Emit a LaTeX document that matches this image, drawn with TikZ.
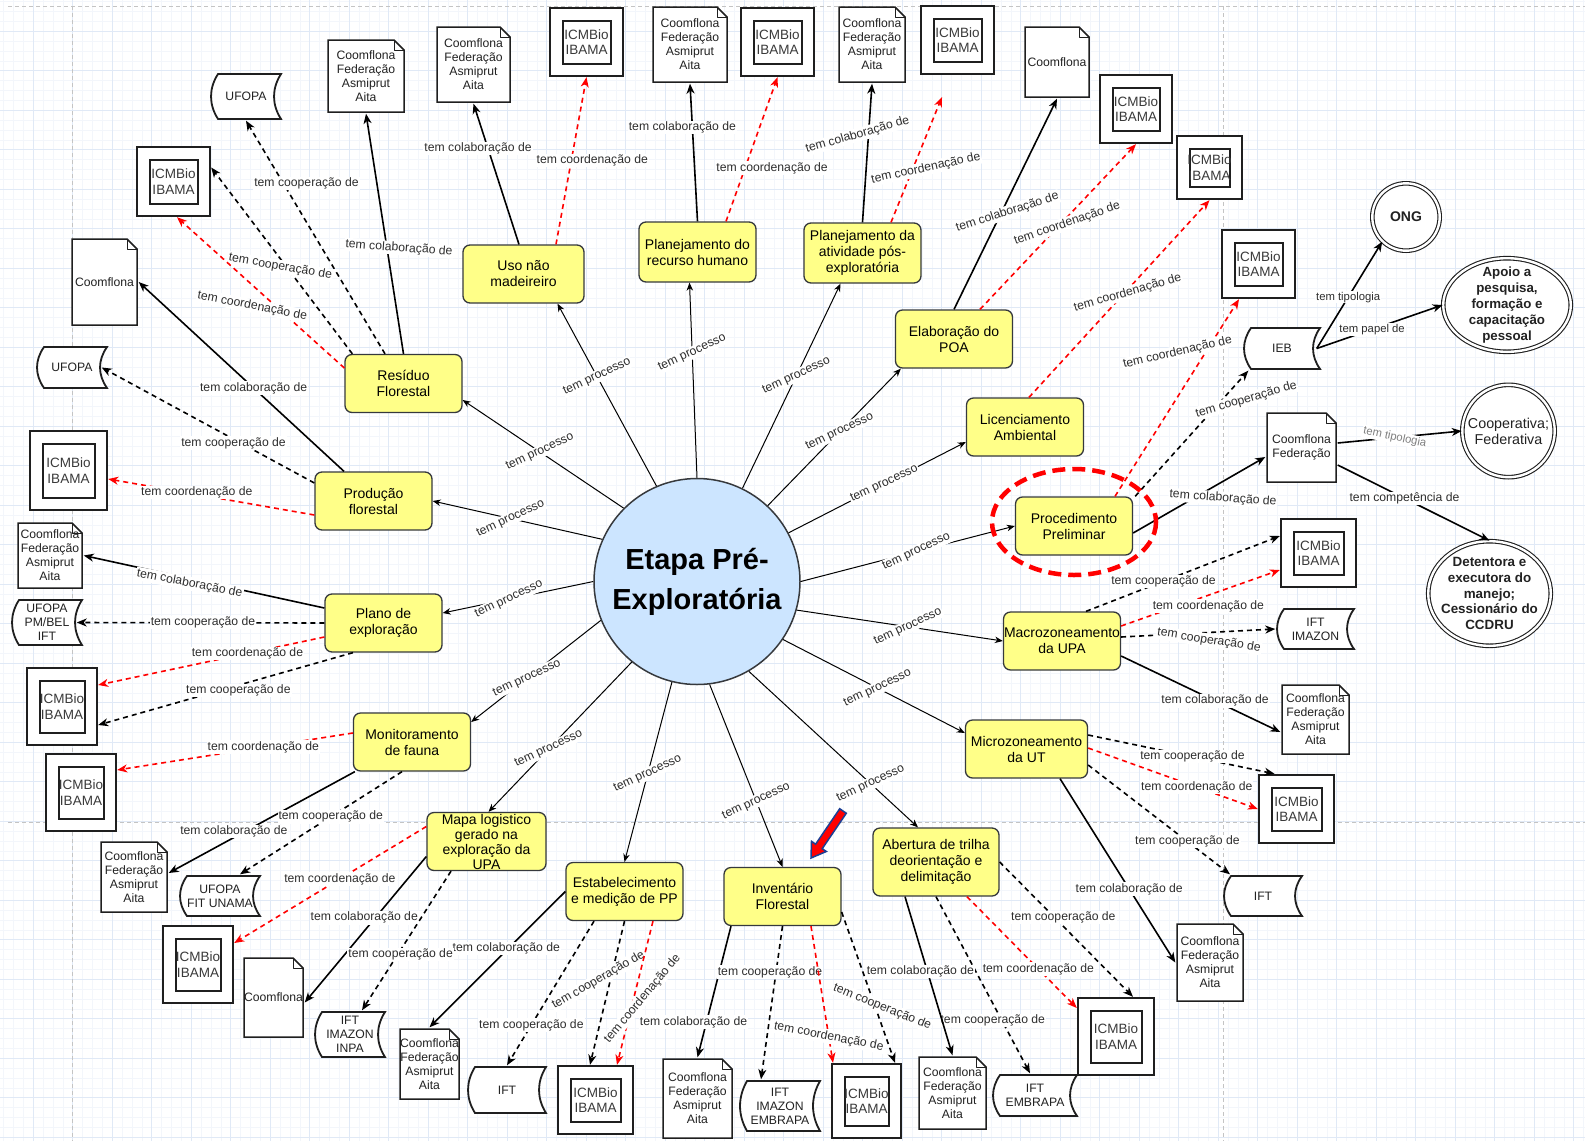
\documentclass[tikz,border=0pt]{standalone}
\usepackage{fontspec}
\setmainfont{Liberation Sans}
\usetikzlibrary{arrows.meta,calc,shapes.geometric}

\newcommand\procfont{\fontsize{14}{16}\selectfont}
\newcommand\centrefont{\bfseries\fontsize{29}{40}\selectfont}
\newcommand\leaffont{\fontsize{12.2}{14}\selectfont}
\newcommand\icmfont{\fontsize{13.5}{15.5}\selectfont}
\newcommand\labfont{\fontsize{12.2}{14}\selectfont}
\newcommand\tinyfont{\fontsize{11.3}{13}\selectfont}

\definecolor{gridminor}{HTML}{F3F6FB}
\definecolor{gridmajor}{HTML}{E0E9F6}
\definecolor{pagebreak}{HTML}{C4C4C4}
\definecolor{procfill}{HTML}{FFFF88}
\definecolor{procline}{HTML}{36393D}
\definecolor{centrefill}{HTML}{CCE5FF}
\definecolor{boxline}{HTML}{1F1F1F}
\definecolor{labtxt}{HTML}{2E2E2E}
\definecolor{icmtxt}{HTML}{3A3A3A}
\definecolor{leaftxt}{HTML}{222222}
\definecolor{arrowblue}{HTML}{1C3F94}

\tikzset{
  procbox/.style={rectangle, rounded corners=7pt, draw=procline, fill=procfill,
    line width=1.3pt, minimum width=117pt, minimum height=58pt, inner sep=0pt,
    align=center, font=\procfont, text=black},
  centre/.style={circle, draw=procline, fill=centrefill, line width=1.5pt,
    minimum size=206pt, inner sep=0pt, align=center, font=\centrefont},
  icmbox/.style={rectangle, draw=boxline, fill=white, line width=2.4pt,
    inner sep=0pt, align=center, text=icmtxt, font=\icmfont,
    path picture={\draw[boxline, line width=2pt]
      ($(path picture bounding box.north west)+(12.5,12.5)$) rectangle
      ($(path picture bounding box.south east)+(-12.5,-12.5)$);}},
  notebox/.style={rectangle, inner sep=0pt, align=center, text=leaftxt, font=\leaffont,
    path picture={
      \path (path picture bounding box.north west) coordinate (nNW)
            (path picture bounding box.north east) coordinate (nNE)
            (path picture bounding box.south west) coordinate (nSW)
            (path picture bounding box.south east) coordinate (nSE);
      \filldraw[fill=white, draw=boxline, line width=1.5pt, line join=miter]
        ($(nNW)+(1.5,1.5)$) -- ($(nNE)+(-11.5,1.5)$) -- ($(nNE)+(-1.5,11.5)$)
        -- ($(nSE)+(-1.5,-1.5)$) -- ($(nSW)+(1.5,-1.5)$) -- cycle;
      \draw[boxline, line width=0.9pt, line join=round]
        ($(nNE)+(-11.5,1.5)$) -- ($(nNE)+(-11.5,11.5)$) -- ($(nNE)+(-1.5,11.5)$);}},
  tapebox/.style={rectangle, inner sep=0pt, align=center, text=leaftxt, font=\leaffont,
    path picture={
      \path (path picture bounding box.north west) coordinate (tNW)
            (path picture bounding box.north east) coordinate (tNE)
            (path picture bounding box.south west) coordinate (tSW)
            (path picture bounding box.south east) coordinate (tSE);
      \filldraw[fill=white, draw=boxline, line width=1.8pt]
        ($(tNW)+(8.5,1.5)$) -- ($(tNE)+(-1.5,1.5)$)
        .. controls ($(tNE)!0.333!(tSE)+(-10.8,0)$) and ($(tNE)!0.667!(tSE)+(-10.8,0)$)
        .. ($(tSE)+(-1.5,-1.5)$) -- ($(tSW)+(8.5,-1.5)$)
        .. controls ($(tSW)!0.333!(tNW)+(-0.8,0)$) and ($(tSW)!0.667!(tNW)+(-0.8,0)$)
        .. ($(tNW)+(8.5,1.5)$) -- cycle;}},
  dblcirc/.style={circle, draw=boxline, fill=white, double=white, double distance=2.4pt,
    line width=1.1pt, inner sep=0pt, align=center, text=leaftxt},
  dblell/.style={ellipse, draw=boxline, fill=white, double=white, double distance=2.4pt,
    line width=1.1pt, inner sep=0pt, align=center},
  procedge/.style={draw=black, line width=1pt, -{Stealth[length=8pt,width=6.5pt,inset=2.5pt]}},
  colab/.style={color=black, line width=1.6pt, -{Stealth[length=10pt,width=8pt,inset=3pt]}},
  coop/.style={colab, dash pattern=on 5pt off 4pt},
  coord/.style={colab, color=red, dash pattern=on 5pt off 4pt},
  lab/.style={font=\labfont, text=labtxt, fill=white, inner sep=1pt},
  labp/.style={lab, rotate=25},
  labs/.style={font=\tinyfont, text=labtxt, fill=white, inner sep=1pt},
}

\begin{document}
\begin{tikzpicture}[x=1pt,y=-1pt]
\useasboundingbox (0,0) rectangle (1585,1141);
\fill[white] (0,0) rectangle (1585,1141);

% background grid
\foreach \i in {0,...,161}{\draw[gridminor, line width=0.6pt] ({-6.3+9.875*\i},0) -- ++(0,1141);}
\foreach \j in {0,...,116}{\draw[gridminor, line width=0.6pt] (0,{-8.3+9.875*\j}) -- ++(1585,0);}
\foreach \i in {0,...,40}{\draw[gridmajor, line width=0.9pt] ({-6.3+39.5*\i},0) -- ++(0,1141);}
\foreach \j in {0,...,29}{\draw[gridmajor, line width=0.9pt] (0,{-8.3+39.5*\j}) -- ++(1585,0);}
% page breaks
\begin{scope}[pagebreak, line width=0.9pt, dash pattern=on 4pt off 3pt]
  \draw (72,6) -- (72,1141);
  \draw (1223,6) -- (1223,1141);
  \draw (8,6) -- (1585,6);
  \draw (8,822.7) -- (1585,822.7);
\end{scope}

% central concept
\node[centre] (c) at (697,581.5) {Etapa Pré-\\Exploratória};

% processes
\node[procbox] (res) at (403.5,383.5) {Resíduo\\Florestal};
\node[procbox] (prod) at (373.5,501) {Produção\\florestal};
\node[procbox] (plano) at (383.5,623) {Plano de\\exploração};
\node[procbox] (mon) at (412,742) {Monitoramento\\de fauna};
\node[procbox, minimum width=119pt, font=\fontsize{14}{15}\selectfont] (mapa) at (486.5,841.5) {Mapa logistico\\gerado na\\exploração da\\UPA};
\node[procbox] (estab) at (624.5,891.5) {Estabelecimento\\e medição de PP};
\node[procbox] (inv) at (782.5,896.5) {Inventário\\Florestal};
\node[procbox, minimum width=126pt, minimum height=68pt] (ab) at (936,862) {Abertura de trilha\\deorientação e\\delimitação};
\node[procbox, minimum width=122pt] (micro) at (1026.5,749) {Microzoneamento\\da UT};
\node[procbox] (macro) at (1062,641) {Macrozoneamento\\da UPA};
\node[procbox] (pre) at (1074,526) {Procedimento\\Preliminar};
\node[procbox] (lic) at (1025,427) {Licenciamento\\Ambiental};
\node[procbox] (poa) at (954,339) {Elaboração do\\POA};
\node[procbox, minimum height=60pt] (post) at (862.5,253) {Planejamento da\\atividade pós-\\exploratória};
\node[procbox, minimum height=60pt] (rh) at (697.5,252) {Planejamento do\\recurso humano};
\node[procbox, minimum width=121pt] (uso) at (523.5,274) {Uso não\\madeireiro};

% ICMBio / IBAMA boxes
\node[icmbox, minimum width=73pt, minimum height=69pt] (icmA) at (173.5,181.5) {ICMBio\\IBAMA};
\node[icmbox, minimum width=73pt, minimum height=68pt] (icmB) at (586.5,42) {ICMBio\\IBAMA};
\node[icmbox, minimum width=73pt, minimum height=68pt] (icmC) at (777.5,42) {ICMBio\\IBAMA};
\node[icmbox, minimum width=73pt, minimum height=68pt] (icmD) at (957.5,40) {ICMBio\\IBAMA};
\node[icmbox, minimum width=72pt, minimum height=68pt] (icmE) at (1136,109) {ICMBio\\IBAMA};
\node[icmbox, minimum width=65pt, minimum height=63pt] (icmF) at (1209.5,167.5) {ICMBio\\IBAMA};
\node[icmbox, minimum width=73pt, minimum height=68pt] (icmG) at (1258.5,264) {ICMBio\\IBAMA};
\node[icmbox, minimum width=75pt, minimum height=68pt] (icmH) at (1318.5,553) {ICMBio\\IBAMA};
\node[icmbox, minimum width=75pt, minimum height=68pt] (icmI) at (1296.5,809) {ICMBio\\IBAMA};
\node[icmbox, minimum width=76pt, minimum height=77pt] (icmJ) at (1116,1036.5) {ICMBio\\IBAMA};
\node[icmbox, minimum width=69pt, minimum height=74pt] (icmK) at (866.5,1101) {ICMBio\\IBAMA};
\node[icmbox, minimum width=75pt, minimum height=68pt] (icmL) at (595.5,1100) {ICMBio\\IBAMA};
\node[icmbox, minimum width=70pt, minimum height=77pt] (icmM) at (198,964.5) {ICMBio\\IBAMA};
\node[icmbox, minimum width=70pt, minimum height=77pt] (icmN) at (81,792.5) {ICMBio\\IBAMA};
\node[icmbox, minimum width=70pt, minimum height=77pt] (icmO) at (62,706.5) {ICMBio\\IBAMA};
\node[icmbox, minimum width=77pt, minimum height=79pt] (icmP) at (68.5,470.5) {ICMBio\\IBAMA};

% organisation notes
\node[notebox, minimum width=79pt, minimum height=75pt] (noteA) at (366,76) {Coomflona\\Federação\\Asmiprut\\Aita};
\node[notebox, minimum width=76pt, minimum height=78pt] (noteB) at (473.5,64.5) {Coomflona\\Federação\\Asmiprut\\Aita};
\node[notebox, minimum width=68pt, minimum height=89pt] (noteC) at (104.5,282) {Coomflona};
\node[notebox, minimum width=77pt, minimum height=78pt] (noteD) at (690,44.5) {Coomflona\\Federação\\Asmiprut\\Aita};
\node[notebox, minimum width=69pt, minimum height=78pt] (noteE) at (872,44.5) {Coomflona\\Federação\\Asmiprut\\Aita};
\node[notebox, minimum width=67pt, minimum height=73pt] (noteF) at (1057,62) {Coomflona};
\node[notebox, minimum width=72pt, minimum height=72pt] (noteG) at (1301.5,447.5) {Coomflona\\Federação};
\node[notebox, minimum width=70pt, minimum height=72pt] (noteH) at (1315.5,719.5) {Coomflona\\Federação\\Asmiprut\\Aita};
\node[notebox, minimum width=69pt, minimum height=80pt] (noteI) at (1210,962.5) {Coomflona\\Federação\\Asmiprut\\Aita};
\node[notebox, minimum width=70pt, minimum height=75pt] (noteJ) at (952.5,1093) {Coomflona\\Federação\\Asmiprut\\Aita};
\node[notebox, minimum width=72pt, minimum height=82pt] (noteK) at (697.5,1098.5) {Coomflona\\Federação\\Asmiprut\\Aita};
\node[notebox, minimum width=62pt, minimum height=73pt] (noteL) at (429.5,1064) {Coomflona\\Federação\\Asmiprut\\Aita};
\node[notebox, minimum width=62pt, minimum height=82pt] (noteM) at (273.5,997.5) {Coomflona};
\node[notebox, minimum width=69pt, minimum height=73pt] (noteN) at (134,877) {Coomflona\\Federação\\Asmiprut\\Aita};
\node[notebox, minimum width=67pt, minimum height=68pt] (noteO) at (50,555.5) {Coomflona\\Federação\\Asmiprut\\Aita};

% institutions (stored-data shapes)
\node[tapebox, minimum width=73pt, minimum height=48pt] (tUfopaA) at (246,96.5) {UFOPA};
\node[tapebox, minimum width=73pt, minimum height=44pt] (tUfopaB) at (72,367.5) {UFOPA};
\node[tapebox, minimum width=79pt, minimum height=44pt] (tIeb) at (1282,348.5) {IEB};
\node[tapebox, minimum width=80pt, minimum height=43pt] (tIftIm) at (1315.5,629) {IFT\\IMAZON};
\node[tapebox, minimum width=81pt, minimum height=43pt] (tIftR) at (1263,896) {IFT};
\node[tapebox, minimum width=87pt, minimum height=44pt] (tIftEmb) at (1035,1095.5) {IFT\\EMBRAPA};
\node[tapebox, minimum width=83pt, minimum height=53pt] (tIftImEmb) at (780,1106) {IFT\\IMAZON\\EMBRAPA};
\node[tapebox, minimum width=81pt, minimum height=49pt] (tIftB) at (507,1090) {IFT};
\node[tapebox, minimum width=73pt, minimum height=48pt] (tIftImIn) at (350,1034.5) {IFT\\IMAZON\\INPA};
\node[tapebox, minimum width=83pt, minimum height=43pt] (tUfu) at (220,896) {UFOPA\\FIT UNAMA};
\node[tapebox, minimum width=73pt, minimum height=48pt] (tUfp) at (47,622.5) {UFOPA\\PM/BEL\\IFT};

% roles and types
\node[dblcirc, minimum size=67.4pt, font=\bfseries\fontsize{14}{16}\selectfont] (ong) at (1406,217) {ONG};
\node[dblell, minimum width=127.6pt, minimum height=93.6pt,
  label={[font=\bfseries\fontsize{13.3}{15.8}\selectfont, align=center, text=leaftxt]center:{Apoio a\\pesquisa,\\formação e\\capacitação\\pessoal}}] (apoio) at (1507,305) {};
\node[dblcirc, minimum size=92.4pt, font=\fontsize{14.3}{16}\selectfont] (coopf) at (1508.5,431) {Cooperativa;\\Federativa};
\node[dblell, minimum width=122.6pt, minimum height=104.6pt,
  label={[font=\bfseries\fontsize{13.4}{15.8}\selectfont, align=center, text=leaftxt]center:{Detentora e\\executora do\\manejo;\\Cessionário do\\CCDRU}}] (deten) at (1489.5,593.5) {};

\coordinate (postfree) at (942,97);

% centre -> processes
\draw[procedge] (c.135) -- ($(res.east)+(0,16.5)$) node[labp,pos=.52]{tem processo};
\draw[procedge] (c.156) -- (prod.east) node[labp,pos=.54]{tem processo};
\draw[procedge] (c.180) -- ($(plano.east)+(0,-10)$) node[labp,pos=.56]{tem processo};
\draw[procedge] (c.202) -- ($(mon.east)+(0,-20)$) node[labp,pos=.57]{tem processo};
\draw[procedge] (c.231) -- ($(mapa.north)+(2,0)$) node[labp,pos=.58]{tem processo};
\draw[procedge] (c.256) -- (estab.north) node[labp,pos=.51]{tem processo};
\draw[procedge] (c.277) -- (inv.north) node[labp,pos=.64]{tem processo};
\draw[procedge] (c.300) -- ($(ab.north)+(-18,0)$) node[labp,pos=.72]{tem processo};
\draw[procedge] (c.326) -- ($(micro.west)+(0,-16)$) node[labp,pos=.52]{tem processo};
\draw[procedge] (c.344) -- (macro.west) node[labp,pos=.54]{tem processo};
\draw[procedge] (c.0) -- (pre.west) node[labp,pos=.54]{tem processo};
\draw[procedge] (c.28) -- ($(lic.west)+(0,15)$) node[labp,pos=.54]{tem processo};
\draw[procedge] (c.47) -- ($(poa.south west)+(6,0)$) node[labp,pos=.54]{tem processo};
\draw[procedge] (c.64) -- ($(post.south)+(-22,0)$) node[labp,pos=.55]{tem processo};
\draw[procedge] (c.90) -- ($(rh.south)+(-8,0)$) node[labp,pos=.64]{tem processo};
\draw[procedge] (c.113) -- ($(uso.south)+(34,0)$) node[labp,pos=.6]{tem processo};

% Residuo Florestal
\draw[colab] (res.north) -- (noteA.south) node[lab,pos=.44,xshift=12pt,rotate=-4]{tem colaboração de};
\draw[coop] ($(res.north)+(-18.5,0)$) -- (tUfopaA.south) node[lab,pos=.73,xshift=23pt]{tem cooperação de};
\draw[coop] ($(res.north west)+(8,0)$) -- ($(icmA.east)+(0,-14)$) node[lab,pos=.51,yshift=-8pt,rotate=-10]{tem cooperação de};
\draw[coord] ($(res.west)+(0,-15.5)$) -- ($(icmA.south)+(3.5,0)$) node[lab,pos=.55,yshift=-21pt,rotate=-11]{tem coordenação de};

% Uso nao madeireiro
\draw[colab] ($(uso.north)+(-4.5,0)$) -- (noteB.south) node[lab,pos=.68,xshift=-10pt]{tem colaboração de};
\draw[coord] ($(uso.north)+(32.5,0)$) -- (icmB.south) node[lab,pos=.5,xshift=21pt]{tem coordenação de};

% Planejamento do recurso humano
\draw[colab] (rh.north) -- (noteD.south) node[lab,pos=.68,xshift=-10pt]{tem colaboração de};
\draw[coord] ($(rh.north)+(28.5,0)$) -- (icmC.south) node[lab,pos=.37,xshift=27pt]{tem coordenação de};

% Planejamento da atividade pos-exploratoria
\draw[colab] (post.north) -- (noteE.south) node[lab,pos=.63,xshift=-11pt,rotate=16]{tem colaboração de};
\draw[coord] ($(post.north)+(28.5,0)$) -- (postfree) node[lab,pos=.43,xshift=13pt,rotate=12]{tem coordenação de};

% Elaboracao do POA
\draw[colab] (poa.north) -- (noteF.south) node[lab,pos=.46,xshift=6pt,rotate=18]{tem colaboração de};
\draw[coord] ($(poa.north)+(26,0)$) -- (icmE.south) node[lab,pos=.52,xshift=6pt,rotate=19]{tem coordenação de};

% Licenciamento Ambiental
\draw[coord] ($(lic.north)+(4,0)$) -- (icmF.south) node[lab,pos=.53,xshift=3pt,rotate=16]{tem coordenação de};

% Procedimento Preliminar
\draw[coord] ($(pre.north)+(41,0)$) -- ($(icmG.south)+(-19.5,0)$) node[lab,pos=.73,xshift=-28pt,rotate=13]{tem coordenação de};
\draw[coop] ($(pre.north east)+(2,0)$) -- ($(tIeb.south west)+(6,0)$) node[lab,pos=.77,xshift=24pt,rotate=16]{tem cooperação de};
\draw[colab] ($(pre.east)+(0,7)$) -- ($(noteG.west)+(0,9.5)$) node[lab,pos=.68,yshift=-17pt,rotate=-4]{tem colaboração de};

% IEB
\draw[colab] ($(tIeb.east)+(-5,0)$) -- (ong.226) node[labs,pos=.48]{tem tipologia};
\draw[colab] ($(tIeb.east)+(-5,0)$) -- (apoio.west) node[labs,pos=.44]{tem papel de};

% Coomflona Federacao
\draw[colab] ($(noteG.east)+(0,-4.5)$) -- (coopf.west) node[labs,text=gray,pos=.46,rotate=-12]{tem tipologia};
\draw[colab] ($(noteG.east)+(0,17.5)$) -- (deten.north) node[lab,pos=.44]{tem competência de};

% Macrozoneamento da UPA
\draw[coop] ($(macro.north)+(24,0)$) -- ($(icmH.west)+(0,-17)$) node[lab,pos=.4]{tem cooperação de};
\draw[coord] ($(macro.east)+(0,-15)$) -- ($(icmH.west)+(0,17)$) node[lab,pos=.55,yshift=-11pt]{tem coordenação de};
\draw[coop] ($(macro.east)+(0,-4)$) -- (tIftIm.west) node[lab,pos=.57,yshift=-8pt,rotate=-9]{tem cooperação de};
\draw[colab] ($(macro.east)+(0,15)$) -- ($(noteH.west)+(0,12.5)$) node[lab,pos=.59]{tem colaboração de};

% Microzoneamento da UT
\draw[coop] ($(micro.east)+(0,-14)$) -- ($(icmI.north)+(-22,0)$) node[lab,pos=.56]{tem cooperação de};
\draw[coord] ($(micro.east)+(0,-1)$) -- (icmI.west) node[lab,pos=.64]{tem coordenação de};
\draw[coop] ($(micro.east)+(0,16)$) -- ($(tIftR.north)+(-33,0)$) node[lab,pos=.7]{tem cooperação de};
\draw[colab] ($(micro.south)+(33.5,0)$) -- (noteI.west) node[lab,pos=.6]{tem colaboração de};

% Abertura de trilha
\draw[coop] (ab.east) -- ($(icmJ.north)+(17,0)$) node[lab,pos=.41,xshift=9pt]{tem cooperação de};
\draw[coord] ($(ab.south)+(31,0)$) -- ($(icmJ.west)+(0,-28.5)$) node[lab,pos=.65]{tem coordenação de};
\draw[coop] (ab.south) -- ($(tIftEmb.north)+(-5,0)$) node[lab,pos=.7,xshift=-9pt]{tem cooperação de};
\draw[colab] ($(ab.south)+(-31,0)$) -- (noteJ.north) node[lab,pos=.47,xshift=-7pt]{tem colaboração de};

% Inventario Florestal
\draw[colab] ($(inv.south)+(-51.5,0)$) -- (noteK.north) node[lab,pos=.73,xshift=-13pt]{tem colaboração de};
\draw[coop] (inv.south) -- ($(tIftImEmb.north)+(-19,0)$) node[lab,pos=.3,xshift=-6pt]{tem cooperação de};
\draw[coord] ($(inv.south)+(28.5,0)$) -- ($(icmK.north)+(-33.5,0)$) node[lab,pos=.81,rotate=-11]{tem coordenação de};
\draw[coop] ($(inv.east)+(0,15.5)$) -- ($(icmK.north)+(28.5,0)$) node[lab,pos=.63,xshift=7pt,rotate=-22]{tem cooperação de};

% Estabelecimento e medicao de PP
\draw[coop] (estab.south) -- ($(icmL.north)+(-5.5,0)$) node[lab,pos=.41,xshift=-12pt,rotate=30]{tem cooperação de};
\draw[coord] ($(estab.south)+(28.5,0)$) -- ($(icmL.north)+(21.5,0)$) node[lab,pos=.54,xshift=9pt,rotate=50]{tem coordenação de};
\draw[coop] ($(estab.south)+(-30.5,0)$) -- (tIftB.north) node[lab,pos=.72]{tem cooperação de};
\draw[colab] (estab.west) -- (noteL.north) node[lab,pos=.42,xshift=-2pt]{tem colaboração de};

% Mapa logistico
\draw[coord] ($(mapa.west)+(0,-15)$) -- ($(icmM.east)+(0,-21.5)$) node[lab,pos=.45]{tem coordenação de};
\draw[colab] ($(mapa.west)+(0,15)$) -- ($(noteM.east)+(0,5)$) node[lab,pos=.42,xshift=-11pt]{tem colaboração de};
\draw[coop] ($(mapa.south)+(-35.5,0)$) -- ($(tIftImIn.north)+(12,0)$) node[lab,pos=.6,xshift=3pt]{tem cooperação de};

% Monitoramento de fauna
\draw[coord] ($(mon.west)+(0,-9)$) -- ($(icmN.east)+(0,-22.5)$) node[lab,pos=.38]{tem coordenação de};
\draw[colab] ($(mon.south west)+(2,0)$) -- ($(noteN.east)+(0,-4)$) node[lab,pos=.65,yshift=6pt]{tem colaboração de};
\draw[coop] ($(mon.south)+(-10,0)$) -- ($(tUfu.north)+(20,0)$) node[lab,pos=.44]{tem cooperação de};

% Plano de exploracao
\draw[colab] ($(plano.west)+(0,-15)$) -- (noteO.east) node[lab,pos=.56,yshift=-5pt,rotate=-11]{tem colaboração de};
\draw[coop] (plano.west) -- ($(tUfp.east)+(-7,0)$) node[lab,pos=.49]{tem cooperação de};
\draw[coord] ($(plano.west)+(0,14)$) -- ($(icmO.east)+(0,-21.5)$) node[lab,pos=.34]{tem coordenação de};
\draw[coop] ($(plano.south)+(-30.5,0)$) -- ($(icmO.east)+(0,18.5)$) node[lab,pos=.45,yshift=-5pt]{tem cooperação de};

% Producao florestal
\draw[colab] ($(prod.north)+(-29.5,0)$) -- (noteC.east) node[lab,pos=.44]{tem colaboração de};
\draw[coop] ($(prod.west)+(0,-18)$) -- ($(tUfopaB.east)+(-7,0)$) node[lab,pos=.38,yshift=-4pt]{tem cooperação de};
\draw[coord] ($(prod.west)+(0,14)$) -- ($(icmP.east)+(0,8.5)$) node[lab,pos=.57,yshift=2pt]{tem coordenação de};

% highlight around the preliminary procedure
\draw[red, line width=4.5pt, dash pattern=on 13pt off 7pt] ($(pre)+(0,-4)$) ellipse [x radius=82, y radius=53];

% pointer arrow at the forest inventory
\filldraw[fill=red, draw=arrowblue, line width=1.5pt, line join=miter]
  (846.3,813.25) -- (822.2,848.7) -- (826.3,851.5) -- (811,858) -- (811.5,841.3) -- (815.6,844.2) -- (839.7,808.75) -- cycle;
\end{tikzpicture}
\end{document}
